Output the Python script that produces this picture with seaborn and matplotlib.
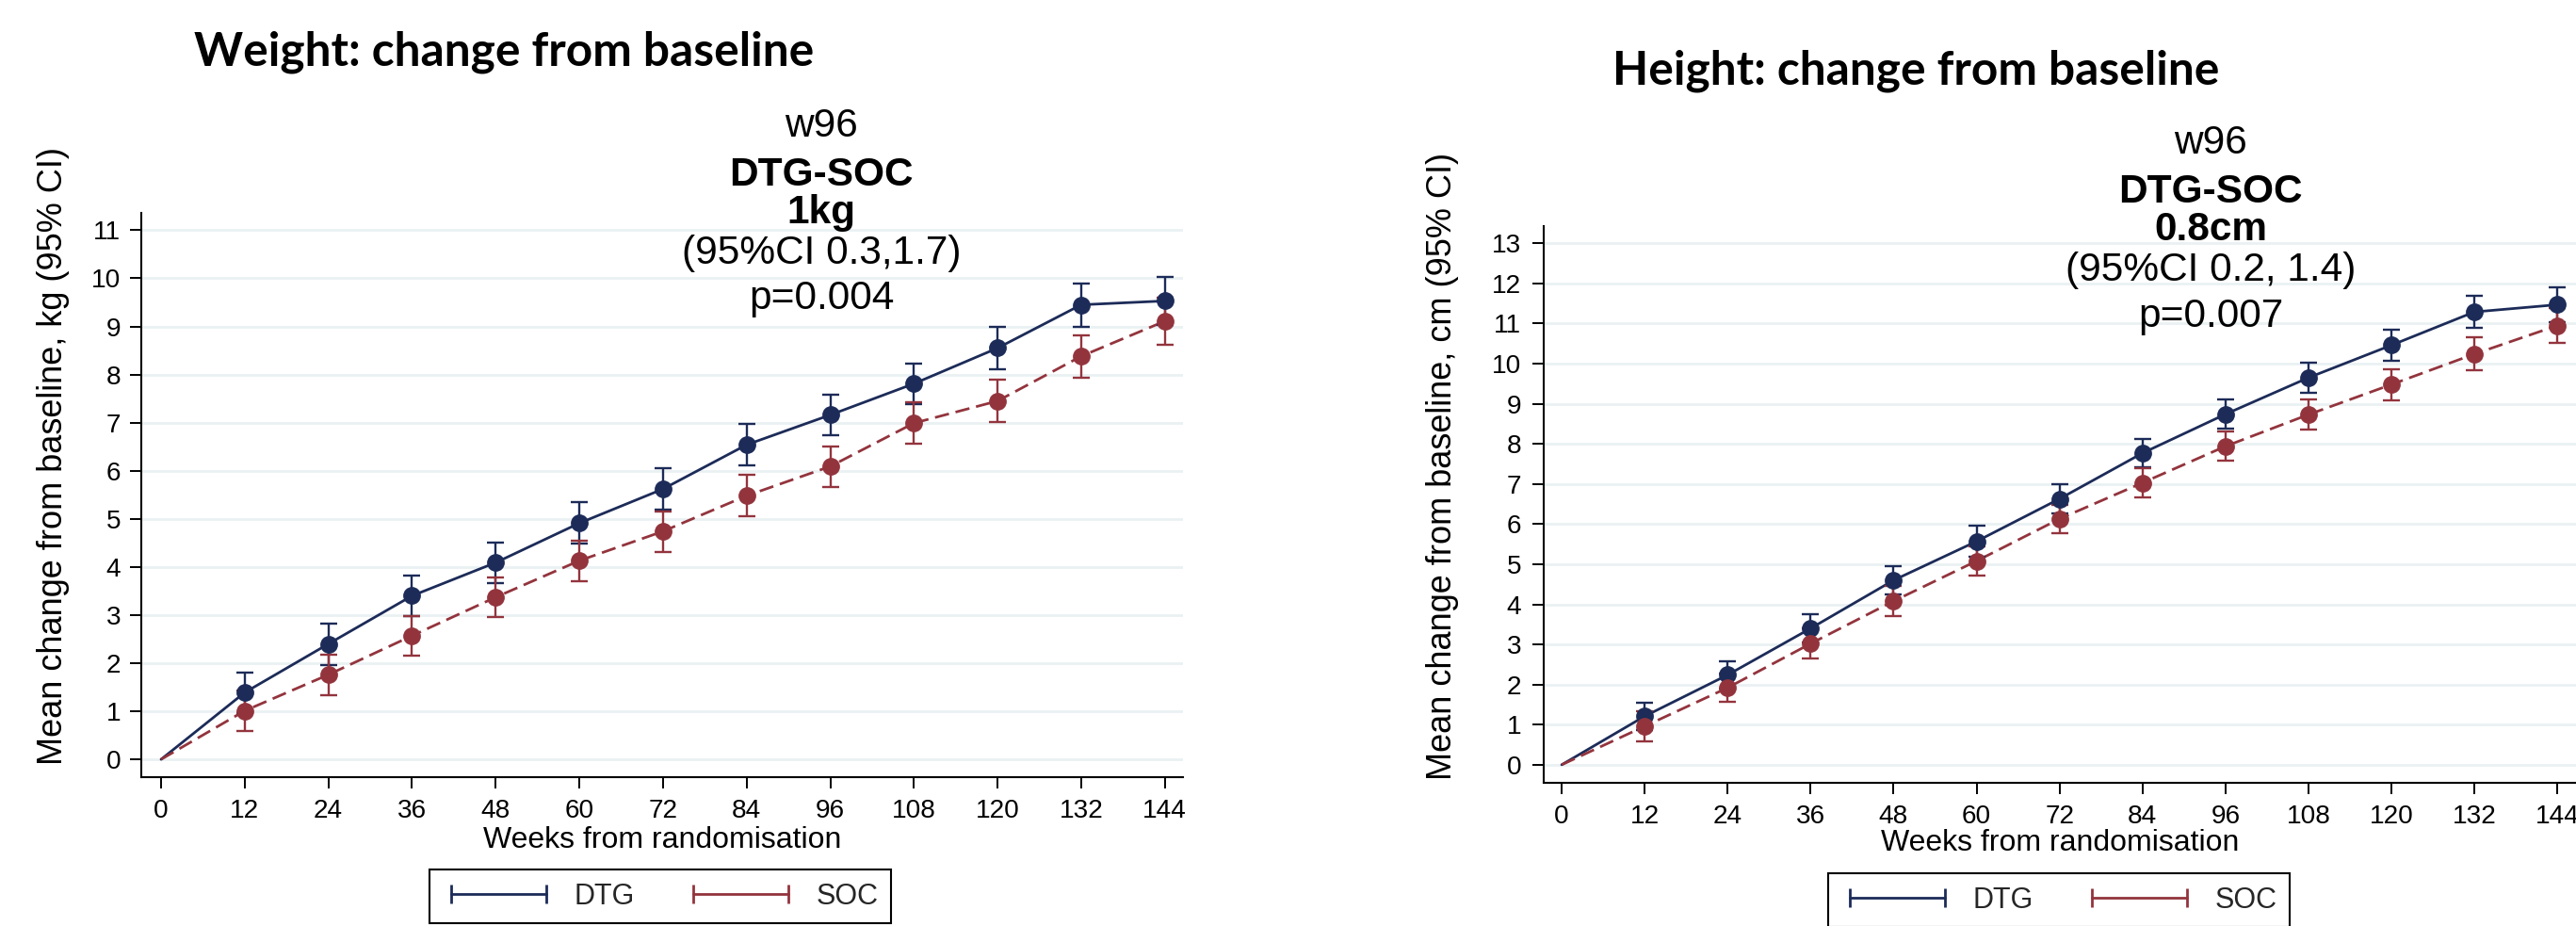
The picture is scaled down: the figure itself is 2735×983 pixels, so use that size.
import matplotlib
matplotlib.use("Agg")
import matplotlib.pyplot as plt
from matplotlib.lines import Line2D
import seaborn as sns
import pandas as pd

# ---------------- data ----------------
weeks = [0, 12, 24, 36, 48, 60, 72, 84, 96, 108, 120, 132, 144]
x_ticks = [0, 12, 24, 36, 48, 60, 72, 84, 96, 108, 120, 132, 144]

wt_dtg_mean = [0, 1.39, 2.40, 3.40, 4.09, 4.91, 5.62, 6.54, 7.16, 7.81, 8.55, 9.45, 9.53]
wt_dtg_half = [0, 0.42, 0.43, 0.42, 0.42, 0.43, 0.43, 0.43, 0.42, 0.42, 0.44, 0.45, 0.50]
wt_soc_mean = [0, 1.01, 1.76, 2.57, 3.37, 4.13, 4.74, 5.48, 6.09, 6.99, 7.45, 8.38, 9.11]
wt_soc_half = [0, 0.42, 0.42, 0.41, 0.42, 0.42, 0.42, 0.43, 0.42, 0.43, 0.44, 0.44, 0.49]

ht_dtg_mean = [0, 1.21, 2.24, 3.40, 4.60, 5.57, 6.63, 7.77, 8.74, 9.65, 10.46, 11.29, 11.47]
ht_dtg_half = [0, 0.34, 0.34, 0.36, 0.35, 0.38, 0.37, 0.35, 0.37, 0.37, 0.39, 0.40, 0.44]
ht_soc_mean = [0, 0.96, 1.92, 3.02, 4.08, 5.08, 6.13, 7.03, 7.94, 8.73, 9.48, 10.24, 10.95]
ht_soc_half = [0, 0.37, 0.36, 0.37, 0.37, 0.36, 0.35, 0.37, 0.36, 0.37, 0.39, 0.41, 0.44]

arms = ["DTG", "SOC"]
wt_yticks = list(range(0, 12))
ht_yticks = list(range(0, 14))

titles = ["Weight: change from baseline", "Height: change from baseline"]
ylabels = ["Mean change from baseline, kg (95% CI)", "Mean change from baseline, cm (95% CI)"]
xlabel = "Weeks from randomisation"
notes = [["w96", "DTG-SOC", "1kg", "(95%CI 0.3,1.7)", "p=0.004"],
         ["w96", "DTG-SOC", "0.8cm", "(95%CI 0.2, 1.4)", "p=0.007"]]

colors = {"DTG": "#1c2b58", "SOC": "#93343d"}

# ---------------- style ----------------
sns.set_theme(style="white")
plt.rcParams["font.family"] = ["Liberation Sans", "DejaVu Sans"]

W, H = 2735, 983
fig = plt.figure(figsize=(W / 100, H / 100), dpi=100)
fig.patch.set_facecolor("white")

axL = fig.add_axes([150 / W, 1 - 825 / H, (1256 - 150) / W, (825 - 226) / H])
axR = fig.add_axes([1639 / W, 1 - 831 / H, (2735 - 1639) / W, (831 - 240) / H])


def make_df(dtg, soc):
    return pd.DataFrame({
        "week": weeks + weeks,
        "mean": dtg + soc,
        "arm": ["DTG"] * len(weeks) + ["SOC"] * len(weeks),
    })


panels = [
    (axL, wt_dtg_mean, wt_dtg_half, wt_soc_mean, wt_soc_half, wt_yticks, (-2.84, 146.6), (-0.37, 11.36), 7),
    (axR, ht_dtg_mean, ht_dtg_half, ht_soc_mean, ht_soc_half, ht_yticks, (-2.6, 146.7), (-0.45, 13.43), 8.5),
]

for i, (ax, dm, dh, sm, shf, yt, xl, yl, ypad) in enumerate(panels):
    df = make_df(dm, sm)
    sns.lineplot(data=df, x="week", y="mean", hue="arm", style="arm",
                 palette=colors, dashes={"DTG": "", "SOC": (5.5, 2.6)},
                 lw=2.0, legend=False, errorbar=None, ax=ax, zorder=3)
    for arm, m, h in (("DTG", dm, dh), ("SOC", sm, shf)):
        ax.errorbar(weeks[1:], m[1:], yerr=h[1:], fmt="o", color=colors[arm],
                    ms=12.5, capsize=6.2, elinewidth=1.7, capthick=1.7, zorder=4)
    ax.set_xlim(*xl)
    ax.set_ylim(*yl)
    ax.set_xticks(x_ticks)
    ax.set_yticks(yt)
    ax.tick_params(axis="both", which="both", direction="out", length=8.6, width=1.4,
                   color="black", labelsize=20.2, labelcolor="black", bottom=True, left=True)
    ax.tick_params(axis="x", pad=8)
    ax.tick_params(axis="y", pad=ypad)
    ax.set_axisbelow(True)
    ax.yaxis.grid(True, color="#eaf1f3", lw=2)
    ax.xaxis.grid(False)
    for s in ("top", "right"):
        ax.spines[s].set_visible(False)
    for s in ("left", "bottom"):
        ax.spines[s].set_color("black")
        ax.spines[s].set_linewidth(1.5)
    ax.set_facecolor("white")
    ax.set_xlabel(xlabel, fontsize=23, color="black", labelpad=0)
    ax.set_ylabel(ylabels[i], fontsize=26, color="black")

# y label coords refer to the right edge of the rotated label
axL.yaxis.set_label_coords((74 - 150) / (1256 - 150), 0.569)
axR.yaxis.set_label_coords((1549 - 1639) / (2735 - 1639), 0.569)
axL.xaxis.set_label_coords(0.5, 1 - (892 - 226) / (825 - 226))
axR.xaxis.set_label_coords(0.5, 1 - (895 - 240) / (831 - 240))
for ax in (axL, axR):
    ax.xaxis.label.set_va("center")

# titles
title_specs = [(titles[0], 535, 69, 657), (titles[1], 2034, 90, 644)]
title_objs = []
for txt, cx, base, wpx in title_specs:
    t = fig.text(cx / W, 1 - base / H, txt, ha="center", va="baseline",
                 fontsize=36, fontweight="bold", family=["Lato", "DejaVu Sans"], color="black")
    title_objs.append((t, wpx))
fig.canvas.draw()
r = fig.canvas.get_renderer()
for t, wpx in title_objs:
    w = t.get_window_extent(r).width
    t.set_fontsize(t.get_fontsize() * wpx / w)

# annotations
note_specs = [(872, [145, 197, 237, 280, 328]), (2347, [163, 215, 255, 298, 347])]
weights = ["normal", "bold", "bold", "normal", "normal"]
for (cx, bases), lines in zip(note_specs, notes):
    for line, b, fw in zip(lines, bases, weights):
        fig.text(cx / W, 1 - b / H, line, ha="center", va="baseline",
                 fontsize=30.5, fontweight=fw, color="black")

# legends
handles = [Line2D([0], [0], color=colors[a], lw=2, marker="|", markersize=14,
                  markeredgewidth=2) for a in arms]
for cx, cy in ((701, 951.5), (2186, 955.5)):
    leg = fig.legend(handles, arms, loc="center", bbox_to_anchor=(cx / W, 1 - cy / H),
                     ncol=2, frameon=True, fontsize=22, numpoints=2, handlelength=3.9,
                     handletextpad=0.66, columnspacing=1.75, borderpad=0.45,
                     fancybox=False, edgecolor="black", framealpha=1)
    leg.get_frame().set_linewidth(1.5)

fig.savefig("out.png", dpi=100, facecolor="white")
